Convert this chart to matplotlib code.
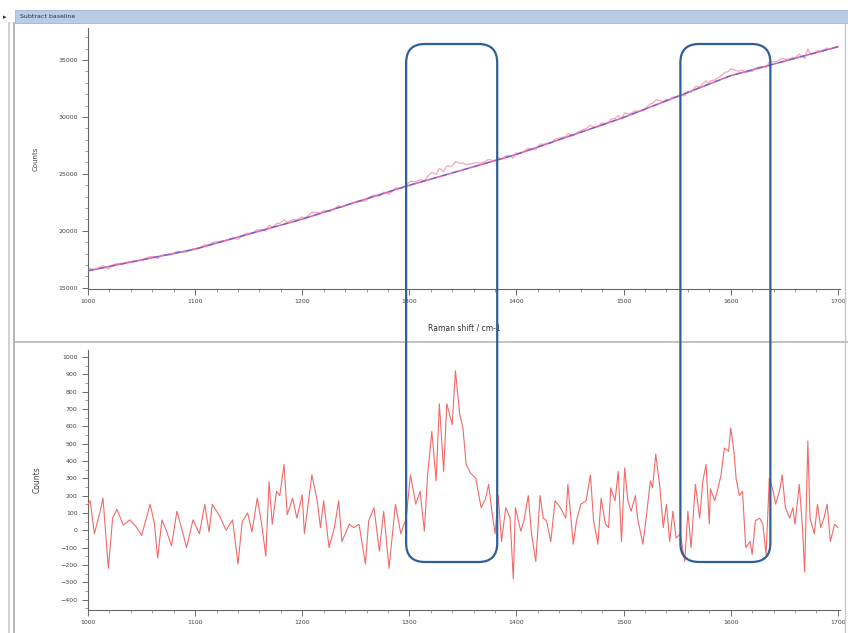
import numpy as np
import matplotlib
matplotlib.use("Agg")
import matplotlib.pyplot as plt
from matplotlib.patches import FancyBboxPatch, Rectangle
from matplotlib.ticker import MultipleLocator

# ---------------- data ----------------
title_text = "Subtract baseline"
x_label = "Raman shift / cm-1"
y_label = "Counts"
x_ticks = [1000, 1100, 1200, 1300, 1400, 1500, 1600, 1700]
top_y_ticks = [15000, 20000, 25000, 30000, 35000]
bottom_y_ticks = [-400, -300, -200, -100, 0, 100, 200, 300, 400, 500, 600, 700, 800, 900, 1000]

# baseline (top panel)
base_x = [1000, 1100, 1200, 1300, 1400, 1500, 1600, 1700]
base_y = [16500, 18400, 21030, 24000, 26710, 29950, 33620, 36150]

# baseline-subtracted spectrum (bottom panel)
diff_x = [1000, 1002, 1006, 1011, 1014, 1019, 1023, 1027, 1033, 1039, 1045, 1050,
          1055, 1058, 1062, 1065, 1069, 1073, 1078, 1083, 1087, 1092, 1098, 1104,
          1109, 1113, 1116, 1123, 1129, 1135, 1140, 1144, 1149, 1153, 1158, 1162,
          1166, 1169, 1172, 1176, 1179, 1183, 1186, 1191, 1195, 1200, 1202, 1207,
          1209, 1214, 1217, 1220, 1225, 1230, 1234, 1237, 1244, 1248, 1253, 1259,
          1262, 1267, 1272, 1276, 1281, 1287, 1292, 1297, 1301, 1306, 1310, 1314,
          1317, 1321, 1325, 1328, 1332, 1335, 1340, 1343, 1347, 1350, 1353, 1357,
          1362, 1367, 1371, 1374, 1377, 1380, 1383, 1386, 1390, 1394, 1397, 1399,
          1404, 1407, 1411, 1414, 1418, 1422, 1425, 1428, 1432, 1436, 1441, 1446,
          1448, 1453, 1456, 1460, 1465, 1469, 1472, 1476, 1479, 1483, 1486, 1488,
          1492, 1495, 1498, 1501, 1504, 1507, 1511, 1513, 1518, 1521, 1525, 1527,
          1530, 1534, 1537, 1540, 1543, 1546, 1549, 1553, 1557, 1560, 1563, 1567,
          1571, 1574, 1577, 1580, 1581, 1585, 1588, 1591, 1594, 1598, 1600, 1603,
          1605, 1608, 1611, 1614, 1618, 1620, 1623, 1627, 1630, 1633, 1636, 1639,
          1642, 1646, 1648, 1651, 1655, 1658, 1660, 1664, 1667, 1669, 1672, 1674,
          1678, 1681, 1684, 1687, 1690, 1693, 1697, 1700]
diff_y = [150, 170, -20, 100, 185, -220, 70, 120, 30, 60, 20, -30,
          80, 150, 40, -160, 60, 0, -90, 110, 20, -100, 60, -20,
          150, -10, 150, 80, 0, 60, -195, 50, 100, -10, 185, 40,
          -150, 280, 35, 225, 200, 380, 90, 185, 70, 205, -20, 225,
          320, 170, 15, 170, -100, 15, 170, -65, 35, 15, 35, -195,
          55, 130, -120, 110, -220, 150, -20, 70, 320, 150, 225, -5,
          320, 570, 285, 730, 340, 730, 610, 920, 670, 590, 380, 330,
          300, 130, 180, 265, 110, -20, 200, -65, 130, 70, -280, 130,
          -5, 55, 200, -20, -180, 200, 70, 55, -65, 170, 130, 70,
          265, -80, 55, 150, 170, 320, 55, -80, 185, 35, 15, 245,
          170, 340, -65, 360, 170, 110, 200, 70, -80, 70, 285, 245,
          440, 240, 15, 150, -65, 110, -45, -20, -180, 110, -100, 265,
          70, 285, 380, 35, 240, 170, 240, 320, 475, 455, 590, 455,
          300, 200, 225, -100, -65, -140, 55, 70, 35, -140, 300, 240,
          150, 240, 320, 130, 70, 130, 35, 265, 15, -240, 515, 70,
          -20, 150, 15, 70, 150, -65, 35, 15]

# highlighted regions (cm-1)
regions = [(1297, 1382), (1553, 1637)]

# ---------------- figure ----------------
W, H = 848, 633
fig = plt.figure(figsize=(W / 100, H / 100), dpi=100)
fig.patch.set_facecolor("white")

def fx(px):
    return px / W

def fy(py):
    return 1 - py / H

# window chrome
fig.add_artist(Rectangle((fx(15), fy(23)), fx(833), 13 / H, transform=fig.transFigure,
                         facecolor="#b9cde5", edgecolor="#9fb6d3", lw=0.6))
fig.text(fx(20), fy(16.5), title_text, fontsize=4.5, color="#203050", va="center")
fig.text(fx(5), fy(17), "\u25b8", fontsize=5, color="#333333", va="center", ha="center")
for xp, c in [(9, "#c8c8c8"), (14, "#a8a8a8")]:
    fig.add_artist(plt.Line2D([fx(xp), fx(xp)], [fy(23), 0], transform=fig.transFigure,
                              color=c, lw=1.2))
fig.add_artist(plt.Line2D([fx(845), fx(845)], [fy(23), 0], transform=fig.transFigure,
                          color="#c8c8c8", lw=1.0))
fig.add_artist(plt.Line2D([fx(15), fx(848)], [fy(342), fy(342)], transform=fig.transFigure,
                          color="#b8b8b8", lw=1.2))

ax1 = fig.add_axes([fx(88), fy(289), fx(840 - 88), (289 - 28) / H])
ax2 = fig.add_axes([fx(88), fy(610), fx(840 - 88), (610 - 350) / H])

dx = np.array(diff_x, dtype=float)
dy = np.array(diff_y, dtype=float)
raw = np.interp(dx, base_x, base_y) + dy

ax1.plot(dx, raw, color="#f0a0b0", lw=0.9, alpha=0.9, zorder=2)
ax1.plot(base_x, base_y, color="#d868b8", lw=1.2, zorder=3)
ax1.plot(base_x, base_y, color="#5a66c8", lw=0.8, dashes=(5, 5), zorder=4)

ax2.plot(dx, dy, color="#f06a6a", lw=0.8, zorder=3)

for ax in (ax1, ax2):
    ax.set_xlim(1000, 1702)
    ax.set_xticks(x_ticks)
    ax.xaxis.set_minor_locator(MultipleLocator(20))
    for s in ("top", "right"):
        ax.spines[s].set_visible(False)
    for s in ("left", "bottom"):
        ax.spines[s].set_color("#666666")
        ax.spines[s].set_linewidth(0.8)
    ax.tick_params(which="major", labelsize=4.5, colors="#555555", length=4, width=0.6,
                   labelcolor="#444444")
    ax.tick_params(which="minor", length=2, width=0.5, colors="#777777")
    ax.set_facecolor("white")

ax1.set_ylim(14900, 37800)
ax1.set_yticks(top_y_ticks)
ax1.yaxis.set_minor_locator(MultipleLocator(1000))
ax1.set_ylabel(y_label, fontsize=5, color="#444444", labelpad=14)
ax1.set_xlabel(x_label, fontsize=5.5, color="#333333", labelpad=14)

ax2.set_ylim(-460, 1040)
ax2.set_yticks(bottom_y_ticks)
ax2.yaxis.set_minor_locator(MultipleLocator(50))
ax2.set_ylabel(y_label, fontsize=5.5, color="#444444", labelpad=14)

# highlight boxes spanning both panels
for (x0, x1) in regions:
    px0 = ax1.transData.transform((x0, 0))[0]
    px1 = ax1.transData.transform((x1, 0))[0]
    top_px = H - 44
    bot_px = H - 562
    box = FancyBboxPatch((px0 / W, bot_px / H), (px1 - px0) / W, (top_px - bot_px) / H,
                         boxstyle="round,pad=0,rounding_size=0.022",
                         transform=fig.transFigure, facecolor="none",
                         edgecolor="#2f5f97", lw=1.6, zorder=10,
                         mutation_aspect=W / H)
    fig.add_artist(box)

fig.savefig("out.png", dpi=100)
